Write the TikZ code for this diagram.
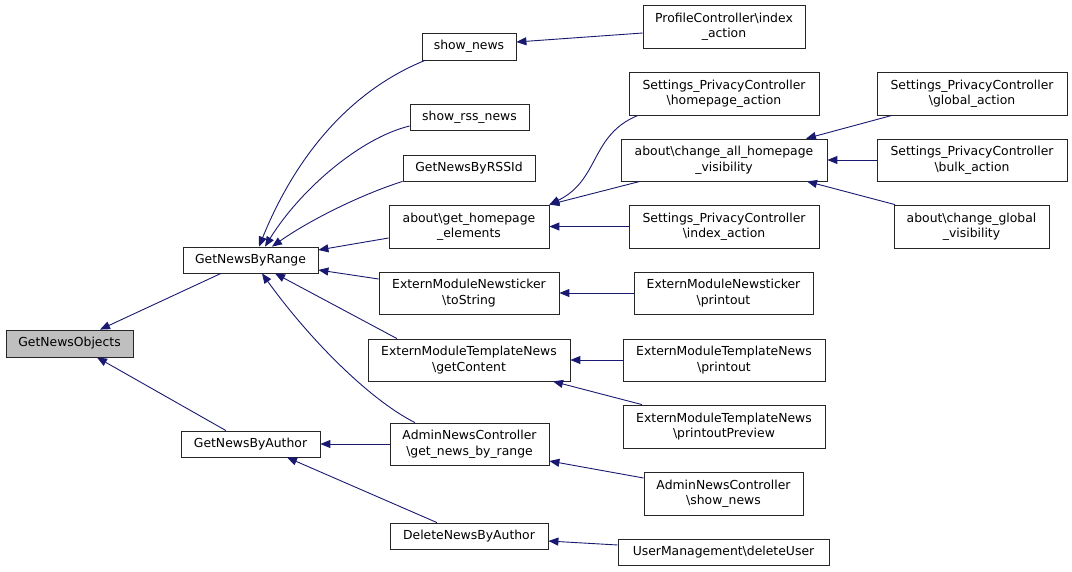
\documentclass[tikz,border=0pt]{standalone}
\usepackage{fontspec}
\setmainfont{DejaVu Sans}
\usetikzlibrary{arrows.meta}
\definecolor{edgeblue}{RGB}{25,25,112}
\definecolor{boxgray}{RGB}{191,191,191}
\newcommand{\bs}{\textbackslash}
\begin{document}
\begin{tikzpicture}[x=1pt,y=-1pt,
  box/.style={draw=black!85, line width=0.8pt, inner sep=0pt, align=center, font=\fontsize{12.4}{15.5}\selectfont},
  edge/.style={draw=edgeblue, line width=0.9pt, -{Triangle[length=10pt,width=8pt]}}]
\useasboundingbox (0,0) rectangle (1072,571);
% column 0
\node[box, fill=boxgray, minimum width=127pt, minimum height=27pt] (gno) at (69.5,343.5) {GetNewsObjects};
% column 1
\node[box, minimum width=135pt, minimum height=26pt] (gnbr) at (250.5,260) {GetNewsByRange};
\node[box, minimum width=139pt, minimum height=26pt] (gnba) at (250.5,444) {GetNewsByAuthor};
% column 2
\node[box, minimum width=94pt, minimum height=27pt] (sn) at (469,46.5) {show\_news};
\node[box, minimum width=119pt, minimum height=26pt] (srn) at (469.5,117) {show\_rss\_news};
\node[box, minimum width=132pt, minimum height=26pt] (rss) at (469,168) {GetNewsByRSSId};
\node[box, minimum width=160pt, minimum height=43pt] (gh) at (469,226.5) {about\bs get\_homepage\\\_elements};
\node[box, minimum width=180pt, minimum height=42pt] (ts) at (469,293) {ExternModuleNewsticker\\\bs toString};
\node[box, minimum width=202pt, minimum height=42pt] (gc) at (469,360) {ExternModuleTemplateNews\\\bs getContent};
\node[box, minimum width=159pt, minimum height=42pt] (gnr) at (469.5,444) {AdminNewsController\\\bs get\_news\_by\_range};
\node[box, minimum width=158pt, minimum height=26pt] (dna) at (469,536) {DeleteNewsByAuthor};
% column 3
\node[box, minimum width=162pt, minimum height=43pt] (pc) at (724,26.5) {ProfileController\bs index\\\_action};
\node[box, minimum width=190pt, minimum height=43pt] (spch) at (724,93.5) {Settings\_PrivacyController\\\bs homepage\_action};
\node[box, minimum width=206pt, minimum height=42pt] (cah) at (724,160) {about\bs change\_all\_homepage\\\_visibility};
\node[box, minimum width=190pt, minimum height=43pt] (spci) at (724,226.5) {Settings\_PrivacyController\\\bs index\_action};
\node[box, minimum width=179pt, minimum height=42pt] (emnp) at (723.5,293) {ExternModuleNewsticker\\\bs printout};
\node[box, minimum width=202pt, minimum height=42pt] (emtp) at (724,360) {ExternModuleTemplateNews\\\bs printout};
\node[box, minimum width=202pt, minimum height=43pt] (pp) at (724,426.5) {ExternModuleTemplateNews\\\bs printoutPreview};
\node[box, minimum width=159pt, minimum height=43pt] (ans) at (723.5,493.5) {AdminNewsController\\\bs show\_news};
\node[box, minimum width=211pt, minimum height=26pt] (du) at (723.5,552) {UserManagement\bs deleteUser};
% column 4
\node[box, minimum width=190pt, minimum height=43pt] (spcg) at (972,93.5) {Settings\_PrivacyController\\\bs global\_action};
\node[box, minimum width=190pt, minimum height=42pt] (spcb) at (972,160) {Settings\_PrivacyController\\\bs bulk\_action};
\node[box, minimum width=155pt, minimum height=43pt] (cgv) at (971.5,226.5) {about\bs change\_global\\\_visibility};
% edges
\draw[edge] ([xshift=-29.5pt]gnbr.south) -- ([xshift=30.5pt]gno.north);
\draw[edge] ([xshift=-24.5pt]gnba.north) -- ([xshift=27.5pt]gno.south);
\draw[edge] ([xshift=-44pt]sn.south) .. controls (340,95) and (290,170) .. ([xshift=8.5pt]gnbr.north);
\draw[edge] ([yshift=-9pt]srn.west) .. controls (360,138) and (300,190) .. ([xshift=14.5pt]gnbr.north);
\draw[edge] (rss.south west) .. controls (360,195) and (310,220) .. ([xshift=21.5pt]gnbr.north);
\draw[edge] ([yshift=-11.5pt]gh.west) -- ([yshift=10pt]gnbr.east);
\draw[edge] ([yshift=14pt]ts.west) -- ([yshift=-10pt]gnbr.east);
\draw[edge] ([xshift=-72pt]gc.north) -- ([xshift=24.5pt]gnbr.south);
\draw[edge] ([xshift=-54.5pt]gnr.north) .. controls (370,400) and (310,340) .. ([xshift=11.5pt]gnbr.south);
\draw[edge] (gnr.west) -- (gnba.east);
\draw[edge] ([xshift=-32pt]dna.north) -- ([xshift=36.5pt]gnba.south);
\draw[edge] ([yshift=-6.5pt]pc.west) -- ([yshift=4.5pt]sn.east);
\draw[edge] ([xshift=-86pt]spch.south) .. controls (590,135) and (600,180) .. (gh.north east);
\draw[edge] ([xshift=-84pt]cah.south) -- (gh.north east);
\draw[edge] (spci.west) -- (gh.east);
\draw[edge] ([xshift=-80pt]spcg.south) -- ([xshift=82pt]cah.north);
\draw[edge] (spcb.west) -- (cah.east);
\draw[edge] ([xshift=-76.5pt]cgv.north) -- ([xshift=83pt]cah.south);
\draw[edge] (emnp.west) -- (ts.east);
\draw[edge] (emtp.west) -- (gc.east);
\draw[edge] ([xshift=-82pt]pp.north) -- ([xshift=84pt]gc.south);
\draw[edge] ([yshift=15.5pt]ans.west) -- ([yshift=-17pt]gnr.east);
\draw[edge] ([yshift=7pt]du.west) -- ([yshift=-5pt]dna.east);
\end{tikzpicture}
\end{document}
